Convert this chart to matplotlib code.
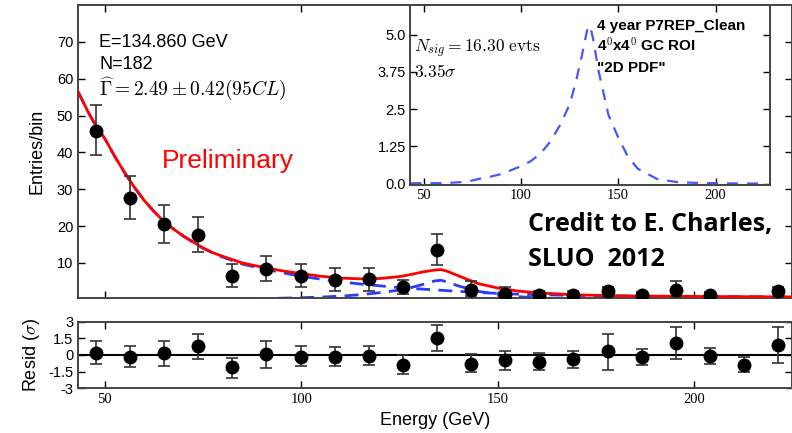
import matplotlib
matplotlib.use("Agg")
import matplotlib.pyplot as plt
import numpy as np

plt.rcParams['mathtext.fontset'] = 'cm'
plt.rcParams['font.family'] = ['Liberation Sans', 'DejaVu Sans']

# Datos por bin (energia en GeV)
energia = [47.7, 56.4, 65.1, 73.7, 82.4, 91.1, 99.8, 108.5, 117.1, 125.8, 134.5,
           143.2, 151.9, 160.5, 169.2, 177.9, 186.6, 195.3, 203.9, 212.6, 221.3]
cuentas = [45.8, 27.5, 20.7, 17.7, 6.5, 8.4, 6.4, 5.5, 5.6, 3.4, 13.4,
           2.7, 1.65, 1.3, 1.3, 2.5, 1.3, 2.7, 1.3, np.nan, 2.3]
err_bajo = [39.4, 22.0, 15.4, 12.9, 3.6, 5.0, 3.5, 2.5, 2.5, 1.5, 9.5,
            1.0, 0.3, 0.2, 0.2, 0.8, 0.2, 0.9, 0.2, np.nan, 0.7]
err_alto = [53.0, 33.5, 25.6, 22.5, 9.7, 12.0, 9.7, 8.6, 8.6, 5.5, 18.0,
            5.0, 3.6, 2.3, 2.3, 3.6, 2.2, 5.0, 2.1, np.nan, 3.6]

# Residuos (sigma)
resid = [0.15, -0.18, 0.15, 0.78, -1.08, 0.06, -0.18, -0.15, -0.1, -0.9, 1.49,
         -0.77, -0.45, -0.62, -0.33, 0.36, -0.15, 1.04, -0.09, -0.9, 0.89]
resid_bajo = [-0.84, -1.08, -1.0, -0.33, -2.04, -1.2, -1.0, -1.0, -0.9, -1.73, 0.36,
              -1.5, -1.34, -1.34, -1.19, -1.34, -0.9, -0.39, -0.77, -1.49, -0.68]
resid_alto = [1.26, 0.78, 1.26, 1.92, -0.3, 1.26, 0.78, 0.7, 0.77, 0.0, 2.68,
              0.09, 0.36, 0.18, 0.36, 1.93, 0.57, 2.53, 0.65, -0.18, 2.53]

# Curvas del modelo
curva_e = [43.2, 46, 48, 50, 52.5, 55, 57.5, 60, 62.5, 65, 67.5, 70, 72.5, 75, 77.5,
           80, 85, 90, 95, 100, 105, 110, 115, 120, 125, 128, 131, 134, 135.5, 137,
           140, 145, 150, 155, 160, 170, 180, 190, 200, 212, 225]
fondo = [56.5, 50.5, 46.8, 43.8, 39.0, 34.6, 30.6, 27.0, 24.0, 21.3, 19.2, 17.3,
         15.6, 14.0, 12.7, 11.6, 9.7, 8.5, 7.4, 6.4, 5.6, 4.9, 4.3, 3.8, 3.3, 3.1,
         2.9, 2.7, 2.6, 2.5, 2.3, 2.0, 1.75, 1.55, 1.4, 1.2, 1.05, 0.95, 0.9, 0.85, 0.8]
senal = [0.0, 0.01, 0.01, 0.01, 0.01, 0.01, 0.01, 0.02, 0.02, 0.03, 0.04, 0.05, 0.07,
         0.1, 0.14, 0.18, 0.24, 0.32, 0.45, 0.58, 0.75, 1.0, 1.4, 1.95, 2.65, 3.35,
         4.2, 5.15, 5.3, 4.9, 3.75, 2.3, 1.55, 0.9, 0.5, 0.15, 0.05, 0.02, 0.01, 0.0, 0.0]
total = [56.5, 50.5, 46.8, 43.8, 39.0, 34.6, 30.6, 27.0, 24.0, 21.3, 19.2, 17.3,
         15.7, 14.1, 12.8, 11.8, 10.0, 8.9, 7.9, 7.1, 6.4, 5.9, 5.7, 5.8, 6.3, 6.9,
         7.6, 8.1, 8.2, 7.8, 6.5, 4.4, 3.2, 2.4, 1.9, 1.35, 1.1, 1.0, 0.92, 0.86, 0.8]

xlim = (43.2, 224.8)
azul = '#2a3cf5'
gris = '#333333'

fig = plt.figure(figsize=(7.92, 4.33), dpi=100)
ax = fig.add_axes([78/792, 1 - 298/433, 714/792, 293/433])
axr = fig.add_axes([78/792, 1 - 388.3/433, 714/792, 66.6/433])
axi = fig.add_axes([410/792, 1 - 185/433, 360/792, 180/433])

# Grafico principal
ax.plot(curva_e, total, color='red', lw=2, zorder=3)
ax.plot(curva_e, fondo, color=azul, lw=2, ls=(0, (5, 3)), zorder=2)
ax.plot(curva_e, senal, color=azul, lw=2, ls=(0, (5, 3)), zorder=2)
y = np.array(cuentas)
ax.errorbar(energia, y, yerr=[y - np.array(err_bajo), np.array(err_alto) - y],
            fmt='o', color='black', ms=9, ecolor=gris, elinewidth=1.2,
            capsize=4.5, capthick=1.2, zorder=4)
ax.set_xlim(xlim)
ax.set_ylim(0.5, 80)
ax.set_yticks([10, 20, 30, 40, 50, 60, 70])
ax.set_xticks([50, 100, 150, 200])
ax.set_xticklabels([])
ax.set_ylabel('Entries/bin', fontsize=13, labelpad=8)
ax.text(0.03, 0.855, 'E=134.860 GeV', transform=ax.transAxes, fontsize=13)
ax.text(0.03, 0.782, 'N=182', transform=ax.transAxes, fontsize=13)
ax.text(0.03, 0.69, r'$\widehat{\Gamma} = 2.49 \pm 0.42 (95CL)$',
        transform=ax.transAxes, fontsize=14)
ax.text(0.118, 0.445, 'Preliminary', transform=ax.transAxes, color='red', fontsize=19)
fig.text(528/792, 1 - 225/433, 'Credit to E. Charles,', fontsize=18,
         fontweight='bold', family=['Open Sans', 'DejaVu Sans'], va='center')
fig.text(528/792, 1 - 260/433, 'SLUO  2012', fontsize=18,
         fontweight='bold', family=['Open Sans', 'DejaVu Sans'], va='center')

# Residuos
r = np.array(resid)
axr.axhline(0, color='black', lw=1.5)
axr.errorbar(energia, r, yerr=[r - np.array(resid_bajo), np.array(resid_alto) - r],
             fmt='o', color='black', ms=9, ecolor=gris, elinewidth=1.2,
             capsize=4.5, capthick=1.2, zorder=4)
axr.set_xlim(xlim)
axr.set_ylim(-3, 3)
axr.set_yticks([-3, -1.5, 0, 1.5, 3])
axr.set_yticklabels(['-3', '-1.5', '0', '1.5', '3'])
axr.set_xticks([50, 100, 150, 200])
for lab in axr.get_xticklabels():
    lab.set_family(['Liberation Serif', 'DejaVu Serif'])
axr.set_ylabel(r'Resid ($\sigma$)', fontsize=13, labelpad=4)
axr.set_xlabel('Energy (GeV)', fontsize=13)

# Recuadro con la senal
axi.plot(curva_e, senal, color='#4a55ff', lw=1.6, ls=(0, (5, 4)))
axi.set_xlim(43, 228)
axi.set_ylim(-0.05, 6.0)
axi.set_yticks([0, 1.25, 2.5, 3.75, 5.0])
axi.set_yticklabels(['0.0', '1.25', '2.5', '3.75', '5.0'])
axi.set_xticks([50, 100, 150, 200])
for lab in axi.get_xticklabels():
    lab.set_family(['Liberation Serif', 'DejaVu Serif'])
axi.text(0.01, 0.74, r'$N_{sig} = 16.30\ \mathrm{evts}$', transform=axi.transAxes, fontsize=12.5)
axi.text(0.01, 0.6, r'$3.35\sigma$', transform=axi.transAxes, fontsize=12.5)
axi.text(0.52, 0.86, '4 year P7REP_Clean', transform=axi.transAxes, fontsize=11, fontweight='bold')
axi.text(0.52, 0.74, r'4$^0$x4$^0$ GC ROI', transform=axi.transAxes, fontsize=11, fontweight='bold')
axi.text(0.52, 0.625, '"2D PDF"', transform=axi.transAxes, fontsize=11, fontweight='bold')

for a in (ax, axr, axi):
    a.tick_params(direction='in', top=True, right=True, length=5, width=1,
                  labelsize=10.5, colors='black')
    for s in a.spines.values():
        s.set_linewidth(1.4)
        s.set_color('#444444')
axi.tick_params(pad=3)

fig.savefig('out.png', dpi=100)
